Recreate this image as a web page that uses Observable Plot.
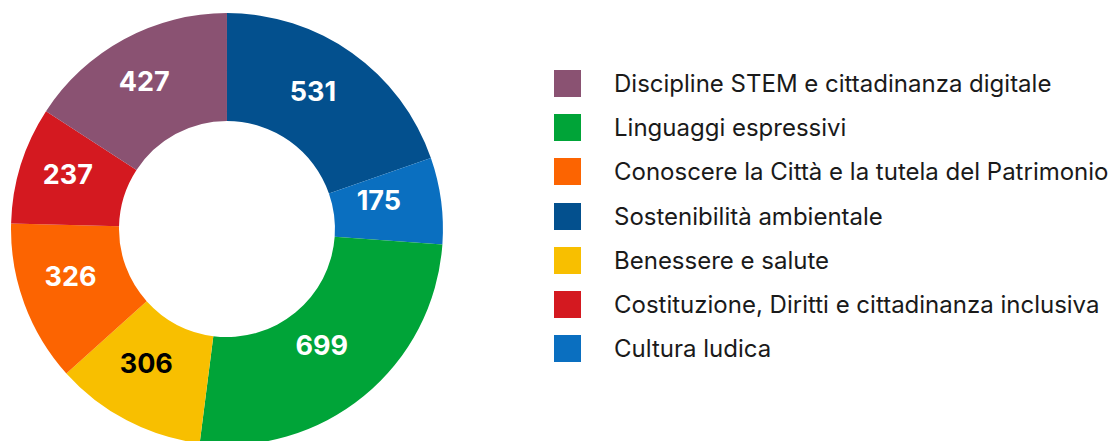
<!DOCTYPE html>
<html>
<head>
<meta charset="utf-8">
<script src="https://cdn.jsdelivr.net/npm/d3@7"></script>
<script src="https://cdn.jsdelivr.net/npm/@observablehq/plot@0.6"></script>
<style>
  html, body { margin: 0; padding: 0; background: #fff; }
  body { width: 1112px; height: 441px; position: relative; overflow: hidden; font-family: Inter, "Noto Sans", sans-serif; }
  #chart { position: absolute; left: 0; top: 0; }
  #legend { position: absolute; left: 554px; top: 70px; }
  .row { display: flex; align-items: center; height: 27px; margin-bottom: 17.2px; }
  .sw { width: 27px; height: 27px; flex: none; }
  .lab { margin-left: 33px; font-size: 24px; color: #1a1a1a; white-space: nowrap; }
</style>
</head>
<body>
<div id="chart"></div>
<div id="legend"></div>
<script>
// Slices in clockwise order starting from 12 o'clock
const sliceCategories = [
  "Sostenibilità ambientale",
  "Cultura ludica",
  "Linguaggi espressivi",
  "Benessere e salute",
  "Conoscere la Città e la tutela del Patrimonio",
  "Costituzione, Diritti e cittadinanza inclusiva",
  "Discipline STEM e cittadinanza digitale"
];
const sliceValues = [531, 175, 699, 306, 326, 237, 427];

// Legend order
const legendCategories = [
  "Discipline STEM e cittadinanza digitale",
  "Linguaggi espressivi",
  "Conoscere la Città e la tutela del Patrimonio",
  "Sostenibilità ambientale",
  "Benessere e salute",
  "Costituzione, Diritti e cittadinanza inclusiva",
  "Cultura ludica"
];
const legendColors = ["#8a5272", "#00a438", "#fc6401", "#03508e", "#f8bf00", "#d41920", "#0a6fc0"];
const darkLabelCategories = ["Benessere e salute"];

const colorOf = new Map(legendCategories.map((c, i) => [c, legendColors[i]]));

const data = sliceCategories.map((c, i) => ({category: c, value: sliceValues[i]}));
const arcs = d3.pie().sort(null).value(d => d.value)(data);

const innerR = 0.5, outerR = 1.0, labelR = 0.74;
const labels = arcs.map(a => {
  const m = (a.startAngle + a.endAngle) / 2;
  return {
    category: a.data.category,
    value: a.data.value,
    x: labelR * Math.sin(m),
    y: labelR * Math.cos(m)
  };
});

function donutMark(index, scales, values, dimensions) {
  const sx = scales.x, sy = scales.y;
  const cx = sx(0), cy = sy(0);
  const r = sx(1) - sx(0);
  const arcGen = d3.arc().innerRadius(innerR * r).outerRadius(outerR * r);
  const g = d3.create("svg:g").attr("transform", `translate(${cx},${cy})`);
  g.selectAll("path").data(arcs).join("path")
    .attr("d", arcGen)
    .attr("fill", d => colorOf.get(d.data.category));
  return g.node();
}

const plot = Plot.plot({
  width: 460,
  height: 441,
  margin: 0,
  x: {domain: [-1.051, 1.079], axis: null},
  y: {domain: [-0.981, 1.060], axis: null},
  style: {background: "transparent"},
  marks: [
    donutMark,
    Plot.text(labels, {
      x: "x", y: "y", text: d => String(d.value),
      fill: d => darkLabelCategories.includes(d.category) ? "#000" : "#fff",
      fontSize: 27, fontWeight: "bold", dx: -7, dy: -7,
      fontFamily: "Inter, 'Noto Sans', sans-serif"
    })
  ]
});
document.getElementById("chart").appendChild(plot);

const legend = d3.select("#legend");
const rows = legend.selectAll(".row").data(legendCategories).join("div").attr("class", "row");
rows.append("div").attr("class", "sw").style("background", d => colorOf.get(d));
rows.append("div").attr("class", "lab").text(d => d);
</script>
</body>
</html>
